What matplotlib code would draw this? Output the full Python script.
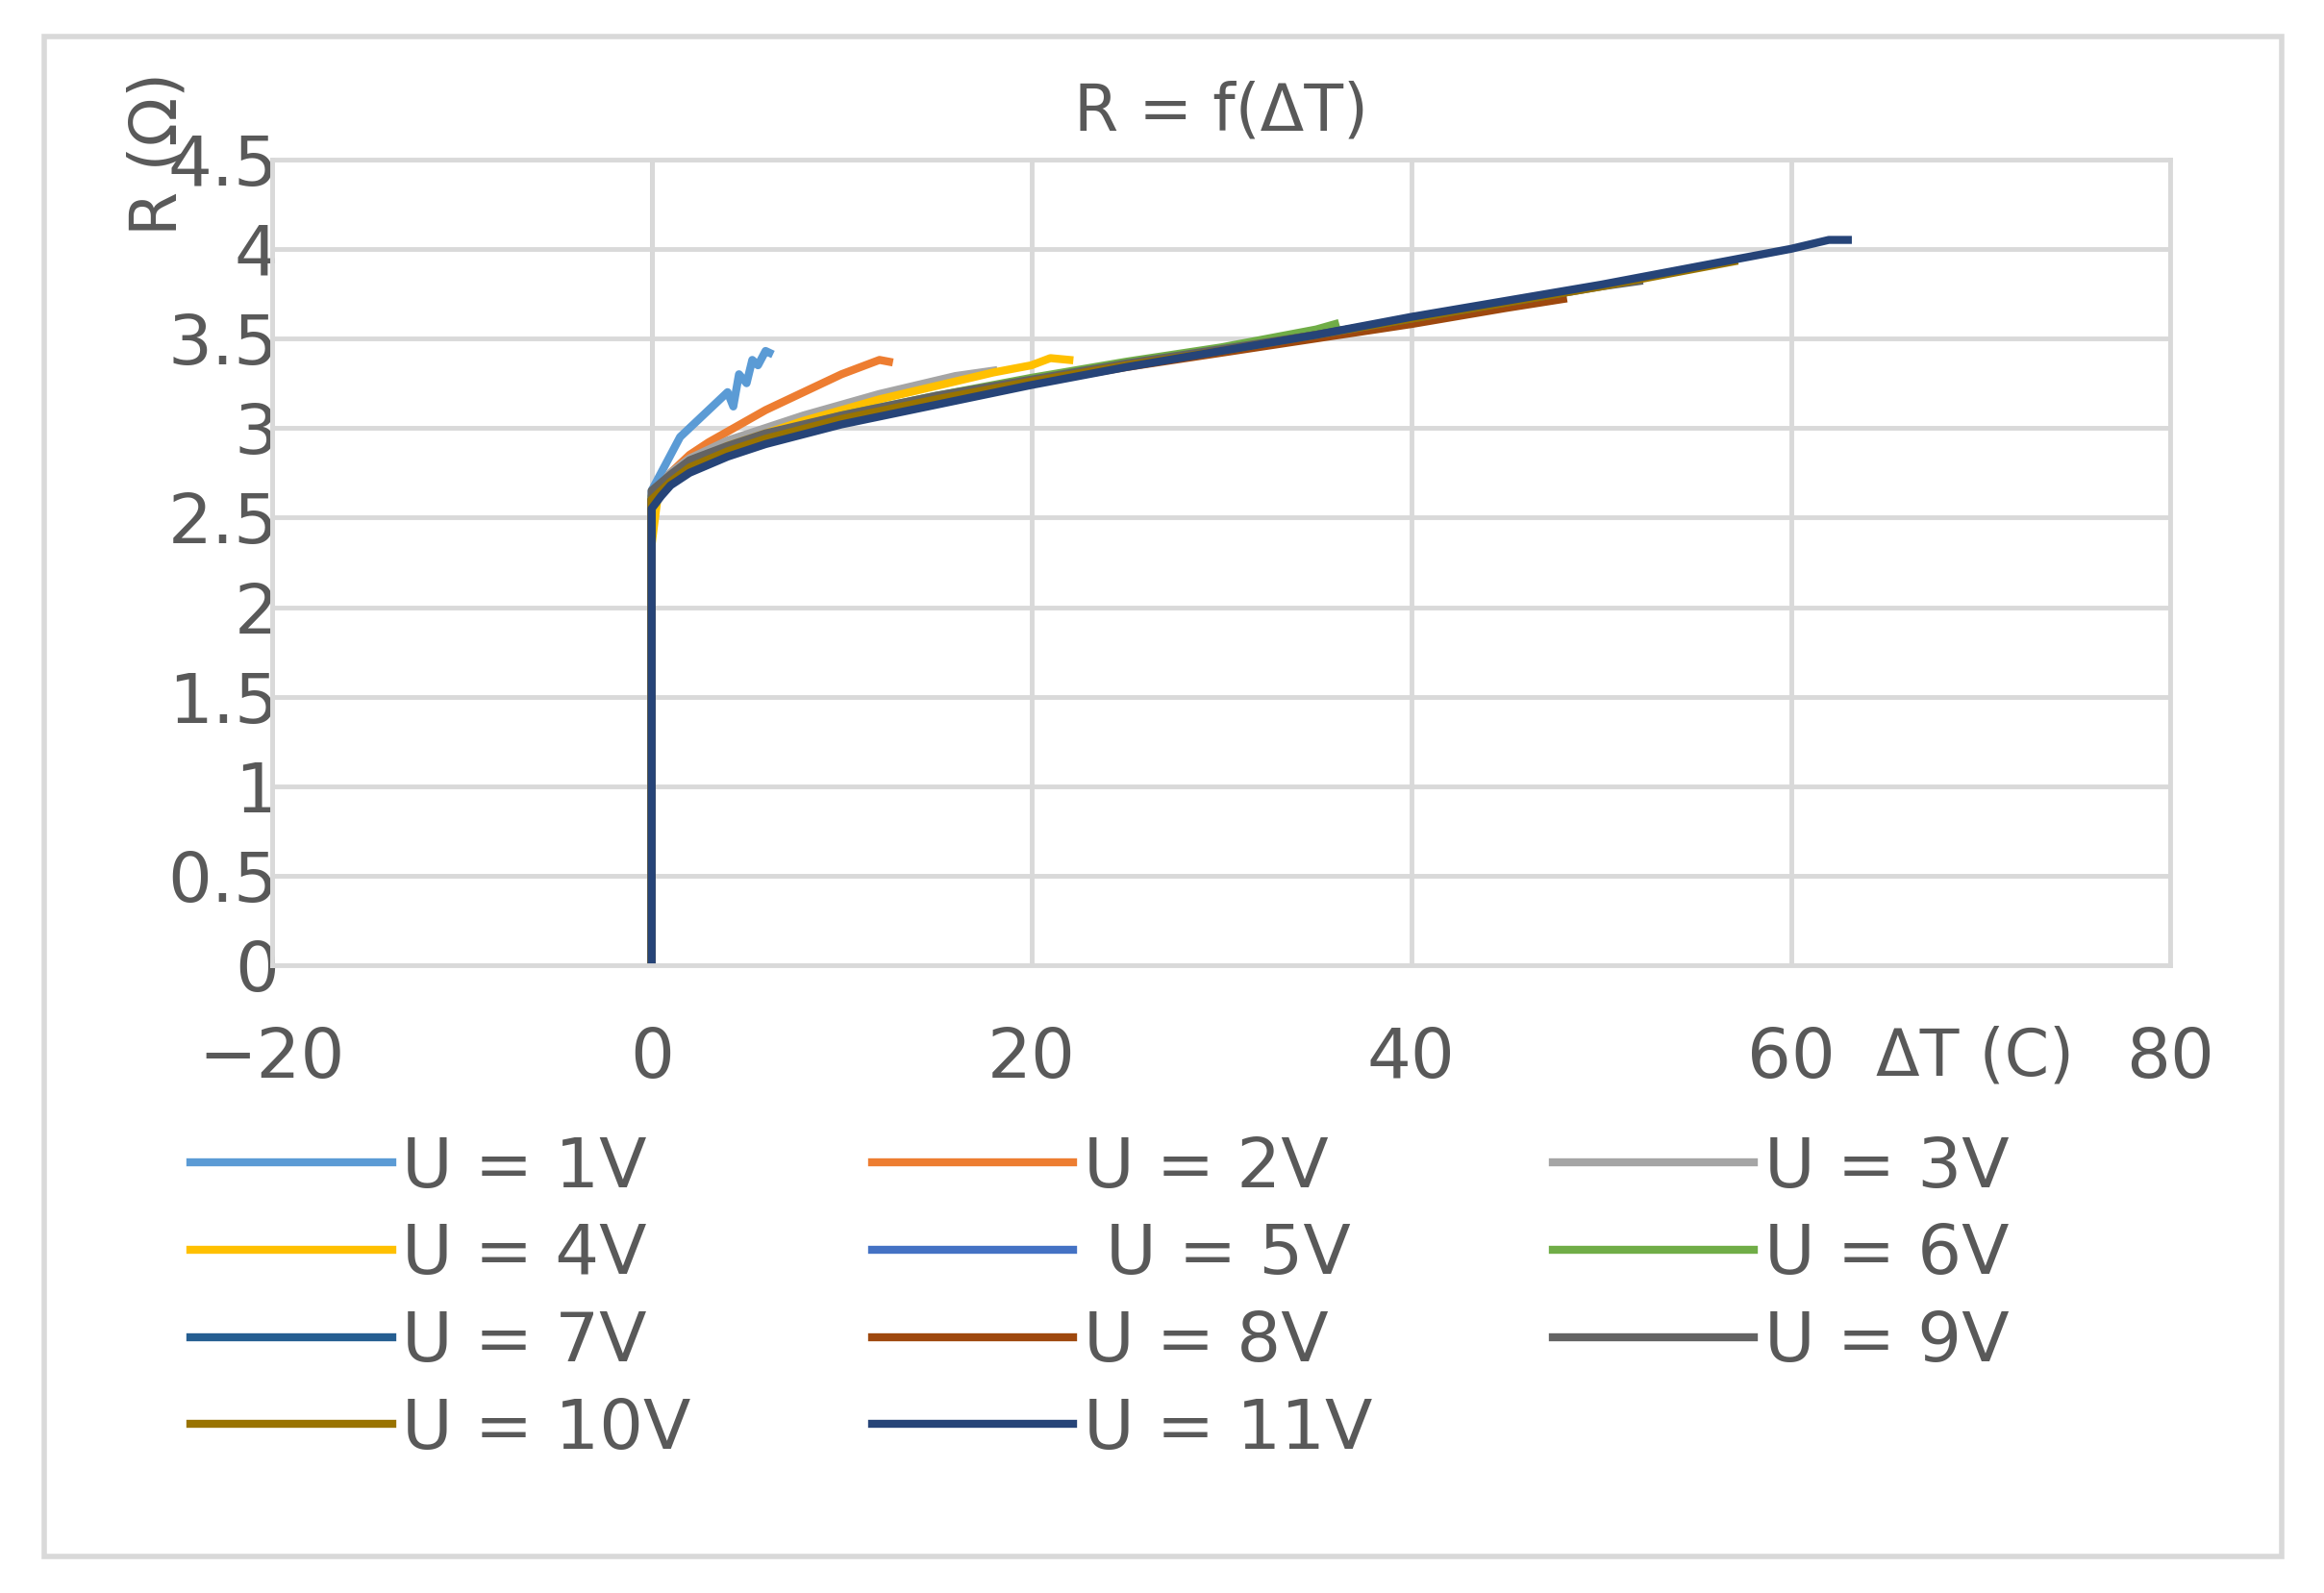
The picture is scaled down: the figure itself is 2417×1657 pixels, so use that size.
import matplotlib.pyplot as plt
from matplotlib.patches import Rectangle

labels = ['U = 1V', 'U = 2V', 'U = 3V', 'U = 4V', ' U = 5V', 'U = 6V',
          'U = 7V', 'U = 8V', 'U = 9V', 'U = 10V', 'U = 11V']
colors = ['#5B9BD5', '#ED7D31', '#A5A5A5', '#FFC000', '#4472C4', '#70AD47',
          '#255E91', '#9E480E', '#636363', '#997300', '#264478']

# (dT, R) points per series
dt1 = [0, 0, 0.5, 1, 1.5, 2, 2.5, 3, 3.5, 4, 4.3, 4.6, 5, 5.3, 5.6, 6, 6.2]
r1 = [0, 2.65, 2.75, 2.85, 2.95, 3.0, 3.05, 3.1, 3.15, 3.2, 3.12, 3.3, 3.25, 3.38, 3.35, 3.43, 3.42]
dt2 = [0, 0, 1, 2, 3, 4, 5, 6, 7, 8, 9, 10, 11, 12, 12.5]
r2 = [0, 2.6, 2.75, 2.85, 2.92, 2.98, 3.04, 3.1, 3.15, 3.2, 3.25, 3.3, 3.34, 3.38, 3.37]
dt3 = [0, 0, 1, 2, 4, 6, 8, 10, 12, 14, 16, 18]
r3 = [0, 2.62, 2.75, 2.83, 2.93, 3.0, 3.07, 3.13, 3.19, 3.24, 3.29, 3.32]
dt4 = [0, 0, 0.3, 1, 2, 4, 6, 8, 10, 12, 14, 16, 18, 20, 21, 22]
r4 = [0, 2.35, 2.6, 2.72, 2.8, 2.9, 2.97, 3.04, 3.1, 3.16, 3.21, 3.26, 3.31, 3.35, 3.39, 3.38]
dt5 = [0, 0, 1, 2, 4, 6, 10, 15, 20, 25, 30]
r5 = [0, 2.6, 2.72, 2.8, 2.88, 2.95, 3.06, 3.17, 3.27, 3.36, 3.44]
dt6 = [0, 0, 1, 2, 4, 6, 10, 15, 20, 25, 30, 35, 36]
r6 = [0, 2.62, 2.73, 2.81, 2.89, 2.96, 3.07, 3.18, 3.28, 3.37, 3.45, 3.55, 3.58]
dt7 = [0, 0, 1, 2, 4, 6, 10, 15, 20, 25, 30, 35, 40, 45]
r7 = [0, 2.6, 2.7, 2.78, 2.87, 2.94, 3.05, 3.16, 3.26, 3.35, 3.43, 3.52, 3.61, 3.7]
dt8 = [0, 0, 1, 2, 4, 6, 10, 15, 20, 25, 30, 35, 40, 45, 48]
r8 = [0, 2.6, 2.71, 2.79, 2.88, 2.95, 3.05, 3.15, 3.25, 3.34, 3.42, 3.5, 3.58, 3.67, 3.72]
dt9 = [0, 0, 1, 2, 4, 6, 10, 15, 20, 25, 30, 35, 40, 45, 50, 52]
r9 = [0, 2.65, 2.74, 2.82, 2.9, 2.97, 3.07, 3.18, 3.27, 3.36, 3.44, 3.52, 3.61, 3.7, 3.79, 3.82]
dt10 = [0, 0, 1, 2, 4, 6, 10, 15, 20, 25, 30, 35, 40, 45, 50, 55, 57]
r10 = [0, 2.6, 2.7, 2.78, 2.87, 2.94, 3.05, 3.16, 3.26, 3.35, 3.43, 3.52, 3.61, 3.7, 3.79, 3.89, 3.93]
dt11 = [0, 0, 0.5, 1, 2, 4, 6, 10, 15, 20, 25, 30, 35, 40, 45, 50, 55, 58, 60, 62, 63]
r11 = [0, 2.55, 2.62, 2.68, 2.75, 2.84, 2.91, 3.02, 3.13, 3.24, 3.34, 3.43, 3.52, 3.62, 3.71, 3.8, 3.9, 3.96, 4.0, 4.05, 4.05]

xs = [dt1, dt2, dt3, dt4, dt5, dt6, dt7, dt8, dt9, dt10, dt11]
ys = [r1, r2, r3, r4, r5, r6, r7, r8, r9, r10, r11]

FS = 52
TXT = '#595959'

fig = plt.figure(figsize=(24.17, 16.57), dpi=100)
fig.patches.append(Rectangle((0.019, 0.023), 0.963, 0.954, transform=fig.transFigure,
                             fill=False, edgecolor='#D9D9D9', linewidth=4))
ax = fig.add_axes([0.117, 0.394, 0.817, 0.506])

handles = []
for x, y, c, lab in zip(xs, ys, colors, labels):
    h, = ax.plot(x, y, color=c, linewidth=6, label=lab)
    handles.append(h)

ax.set_xlim(-20, 80)
ax.set_ylim(0, 4.5)
ax.set_xticks([-20, 0, 20, 40, 60, 80])
ax.set_xticklabels(['\u221220', '0', '20', '40', '60', '80'])
ax.set_yticks([0, 0.5, 1, 1.5, 2, 2.5, 3, 3.5, 4, 4.5])
ax.set_yticklabels(['0', '0.5', '1', '1.5', '2', '2.5', '3', '3.5', '4', '4.5'])
ax.grid(True, color='#D9D9D9', linewidth=3.5)
ax.set_axisbelow(True)
for s in ax.spines.values():
    s.set_color('#D9D9D9')
    s.set_linewidth(3.5)
ax.tick_params(length=0, labelsize=FS, colors=TXT)
ax.tick_params(axis='x', pad=45)
ax.tick_params(axis='y', pad=-5)
ax.axvline(0, color='#BFBFBF', linewidth=3.5, zorder=0)

ax.set_title('R = f(\u0394T)', fontsize=48, color=TXT, pad=22)
fig.text(0.068, 0.955, 'R (\u03a9)', rotation=90, fontsize=48, color=TXT, va='top', ha='center')
fig.text(0.85, 0.325, '\u0394T (C)', fontsize=48, color=TXT, ha='center')

# row-major legend order (matplotlib fills columns first)
order = [0, 3, 6, 9, 1, 4, 7, 10, 2, 5, 8]
fig.legend([handles[i] for i in order], [labels[i] for i in order],
           loc='upper left', bbox_to_anchor=(0.07, 0.305), ncol=3, frameon=False,
           fontsize=FS, handlelength=2.9, handletextpad=0.15, columnspacing=2.6,
           labelspacing=0.3, labelcolor=TXT, borderaxespad=0)

fig.savefig('out.png', dpi=100)
